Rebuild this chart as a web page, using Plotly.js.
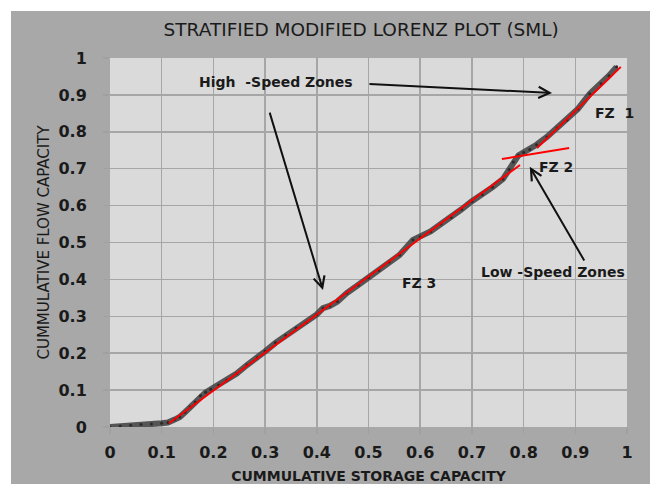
<!DOCTYPE html>
<html>
<head>
<meta charset="utf-8">
<script src="https://cdn.plot.ly/plotly-3.0.1.min.js"></script>
<style>
html,body{margin:0;padding:0;background:#ffffff;width:650px;height:484px;overflow:hidden;}
#chart{position:absolute;left:11px;top:11px;width:639px;height:473px;}
</style>
</head>
<body>
<div id="chart"></div>
<script>
// Cumulative storage capacity (x) and cumulative flow capacity (y) of the SML curve
const storageCap = [0.000,0.020,0.040,0.060,0.080,0.100,0.112,0.125,0.135,0.145,0.155,0.165,0.175,0.185,0.195,0.210,0.226,0.245,0.265,0.285,0.300,0.320,0.340,0.360,0.380,0.400,0.412,0.425,0.440,0.458,0.480,0.500,0.520,0.540,0.560,0.586,0.600,0.620,0.640,0.660,0.680,0.700,0.720,0.740,0.760,0.772,0.780,0.790,0.800,0.812,0.825,0.845,0.865,0.884,0.905,0.928,0.950,0.965,0.980];
const flowCap    = [0.000,0.003,0.005,0.007,0.008,0.010,0.012,0.020,0.027,0.040,0.054,0.068,0.085,0.094,0.102,0.114,0.127,0.145,0.168,0.188,0.205,0.228,0.248,0.268,0.284,0.305,0.322,0.328,0.340,0.363,0.385,0.405,0.425,0.447,0.466,0.507,0.515,0.530,0.550,0.568,0.590,0.612,0.630,0.650,0.672,0.698,0.718,0.736,0.744,0.752,0.765,0.786,0.810,0.832,0.862,0.903,0.930,0.952,0.976];

// Fitted flow-zone lines (x pairs and y pairs)
const fz3X = [0.114, 0.793];
const fz3Y = [0.010, 0.710];
const fz2X = [0.758, 0.888];
const fz2Y = [0.726, 0.756];
const fz1X = [0.826, 0.988];
const fz1Y = [0.756, 0.976];

const xTicks = [0,0.1,0.2,0.3,0.4,0.5,0.6,0.7,0.8,0.9,1];
const xTickText = ['0','0.1','0.2','0.3','0.4','0.5','0.6','0.7','0.8','0.9','1'];
const yTicks = [0,0.1,0.2,0.3,0.4,0.5,0.6,0.7,0.8,0.9,1];
const yTickText = ['0','0.1','0.2','0.3','0.4','0.5','0.6','0.7','0.8','0.9','1'];

const FONT = '"DejaVu Sans", "Liberation Sans", sans-serif';

const traces = [
  {x: storageCap, y: flowCap, type: 'scatter', mode: 'lines+markers',
   line: {color: 'rgba(70,70,70,0.9)', width: 6},
   marker: {color: '#2a2a2a', size: 3}, hoverinfo: 'skip', showlegend: false},
  {x: fz3X, y: fz3Y, type: 'scatter', mode: 'lines', line: {color: '#ff0000', width: 2}, showlegend: false},
  {x: fz2X, y: fz2Y, type: 'scatter', mode: 'lines', line: {color: '#ff0000', width: 2}, showlegend: false},
  {x: fz1X, y: fz1Y, type: 'scatter', mode: 'lines', line: {color: '#ff0000', width: 2}, showlegend: false}
];

const annFont = {family: FONT, size: 14, color: '#1a1a1a', weight: 'bold'};

function arrow(tx, ty, hx, hy) {
  return {x: hx, y: hy, ax: tx, ay: ty, xref: 'x', yref: 'y', axref: 'x', ayref: 'y',
          text: '', showarrow: true, arrowhead: 5, arrowsize: 1.1, arrowwidth: 2, arrowcolor: '#111'};
}

const layout = {
  width: 639, height: 473,
  margin: {l: 99, r: 23, t: 47, b: 57},
  paper_bgcolor: '#a8a8a8',
  plot_bgcolor: '#dadada',
  title: {text: 'STRATIFIED MODIFIED LORENZ PLOT (SML)', font: {family: FONT, size: 18.5, color: '#1a1a1a'},
          x: 0.548, xanchor: 'center', y: 0.96, yanchor: 'middle', yref: 'container'},
  xaxis: {range: [0, 1], tickvals: xTicks, ticktext: xTickText,
          showgrid: true, gridcolor: '#a6a6a6', gridwidth: 1.5, zeroline: false, showline: false,
          ticks: 'outside', ticklen: 6, tickcolor: '#a0a0a0', tickwidth: 1.5,
          ticklabelstandoff: 5,
          tickfont: {family: FONT, size: 16, color: '#1a1a1a', weight: 'bold'},
          title: {text: 'CUMMULATIVE STORAGE CAPACITY', font: {family: FONT, size: 14, color: '#1a1a1a', weight: 'bold'}, standoff: 9}},
  yaxis: {range: [0, 1], tickvals: yTicks, ticktext: yTickText,
          showgrid: true, gridcolor: '#a6a6a6', gridwidth: 1.5, zeroline: false, showline: false,
          ticks: 'outside', ticklen: 6, tickcolor: '#a0a0a0', tickwidth: 1.5,
          ticklabelstandoff: 13,
          tickfont: {family: FONT, size: 16, color: '#1a1a1a', weight: 'bold'},
          title: {text: 'CUMMULATIVE FLOW CAPACITY', font: {family: FONT, size: 15, color: '#1a1a1a'}, standoff: 5}},
  annotations: [
    {x: 0.321, y: 0.935, xref: 'x', yref: 'y', text: 'High  -Speed Zones', showarrow: false, font: annFont},
    arrow(0.499, 0.930, 0.855, 0.905),
    arrow(0.308, 0.856, 0.412, 0.371),
    {x: 0.975, y: 0.852, xref: 'x', yref: 'y', text: 'FZ  1', showarrow: false, font: annFont},
    {x: 0.862, y: 0.705, xref: 'x', yref: 'y', text: 'FZ 2', showarrow: false, font: annFont},
    {x: 0.857, y: 0.42, xref: 'x', yref: 'y', text: 'Low -Speed Zones', showarrow: false, font: annFont},
    arrow(0.919, 0.447, 0.812, 0.705),
    {x: 0.597, y: 0.39, xref: 'x', yref: 'y', text: 'FZ 3', showarrow: false, font: annFont}
  ]
};

Plotly.newPlot('chart', traces, layout, {displayModeBar: false, staticPlot: true});
</script>
</body>
</html>
